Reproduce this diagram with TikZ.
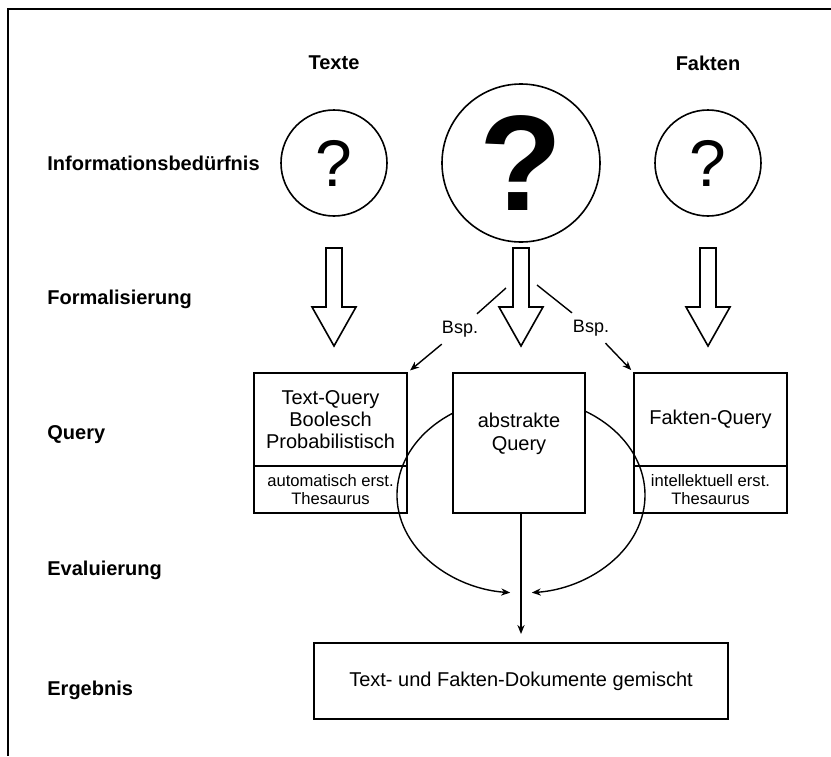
\documentclass[tikz,border=0pt]{standalone}
\usepackage{fontspec}
\setmainfont{Liberation Sans}
\usetikzlibrary{arrows.meta}

\begin{document}
\begin{tikzpicture}[x=0.5pt,y=-0.5pt,
  rowlabel/.style={anchor=west,font=\bfseries,text height=7.2pt,text depth=0pt,inner sep=0pt},
  need/.style={draw,circle,line width=0.8pt,inner sep=0pt},
  qbox/.style={draw,line width=1pt,outer sep=0pt,inner sep=0pt,minimum width=76.5pt,align=center},
  thes/.style={font=\fontsize{8.3}{9}\selectfont},
  pfeil/.style={-{Stealth[length=4.5pt,width=3.6pt]},line width=0.7pt},
  downarrow/.pic={\draw[line width=0.8pt] (-8,0) -- (-8,59) -- (-22,59) -- (0,98) -- (22,59) -- (8,59) -- (8,0) -- cycle;}]
\useasboundingbox (0,0) rectangle (831,756);
\draw[line width=1pt] (831,9) -- (8,9) -- (8,756);

% Zeilen
\node[rowlabel] (lbinfo) at (47,163) {Informationsbedürfnis};
\node[rowlabel] (lbform) at (47,297) {Formalisierung};
\node[rowlabel] (lbquery) at (47,432) {Query};
\node[rowlabel] (lbeval) at (47,568) {Evaluierung};
\node[rowlabel] (lberg) at (47,688) {Ergebnis};

% Spalten
\node[font=\bfseries] (texte) at (334,63) {Texte};
\node[font=\bfseries] (fakten) at (708,63) {Fakten};
\node[need,minimum size=53pt,font=\fontsize{33}{33}\selectfont] (qtext) at (334,163) {?};
\node[need,minimum size=79pt,font=\fontsize{68}{68}\selectfont\bfseries] (qabs) at (521,163) {?};
\node[need,minimum size=53pt,font=\fontsize{33}{33}\selectfont] (qfakt) at (708,163) {?};
\foreach \x in {334,521,708}
  \pic at (\x,248) {downarrow};

% Queries
\node[qbox,minimum height=46.5pt,font=\fontsize{10}{11}\selectfont] (tq) at (330.5,419.5) {Text-Query\\Boolesch\\Probabilistisch};
\node[qbox,minimum height=23.5pt,thes,anchor=north] (tth) at (tq.south) {automatisch erst.\\Thesaurus};
\node[qbox,minimum width=66pt,minimum height=70pt,label={[align=center,yshift=4.5pt,font=\fontsize{10}{11.5}\selectfont]center:abstrakte\\Query}] (abs) at (519,443) {};
\node[qbox,minimum height=46.5pt] (fq) at (710.5,419.5) {Fakten-Query};
\node[qbox,minimum height=23.5pt,thes,anchor=north] (fth) at (fq.south) {intellektuell erst.\\Thesaurus};

% Beispiele
\coordinate (bspl0) at (506,288);
\coordinate (bspr0) at (537,285);
\node[font=\fontsize{9}{9}\selectfont] (bspl) at (460,329) {Bsp.};
\node[font=\fontsize{9}{9}\selectfont] (bspr) at (591,328) {Bsp.};
\draw[line width=0.7pt] (bspl0) -- (bspl);
\draw[line width=0.7pt] (bspr0) -- (bspr);
\draw[pfeil,shorten >=2pt] (bspl) -- (tq.north east);
\draw[pfeil,shorten >=2pt] (bspr) -- (fq.north west);

% Ergebnis
\node[qbox,minimum width=207pt,minimum height=38pt] (erg) at (521,681) {Text- und Fakten-Dokumente gemischt};
\coordinate (evc) at (521,495);
\draw[pfeil] (evc) ++(237:124 and 98) arc[start angle=237,end angle=95,x radius=124,y radius=98];
\draw[pfeil] (evc) ++(-59:124 and 98) arc[start angle=-59,end angle=85,x radius=124,y radius=98];
\draw[pfeil,shorten >=4.5pt] (abs.south -| erg.north) -- (erg.north);
\end{tikzpicture}
\end{document}
